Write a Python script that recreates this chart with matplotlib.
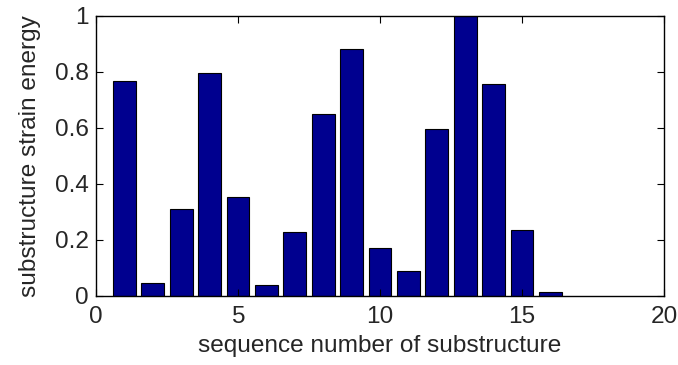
import matplotlib.pyplot as plt

plt.rcParams['font.family'] = ['Liberation Sans', 'DejaVu Sans']

seq = list(range(1, 17))
energy = [0.769, 0.046, 0.310, 0.798, 0.352, 0.039, 0.227, 0.651,
          0.881, 0.170, 0.088, 0.596, 1.0, 0.756, 0.236, 0.013]

fig = plt.figure(figsize=(6.78, 3.65), dpi=100)
ax = fig.add_axes([96 / 678, 69 / 365, 568 / 678, 280 / 365])

ax.bar(seq, energy, width=0.8, color='#00008F', edgecolor='black', linewidth=0.8)

ax.set_xlim(0, 20)
ax.set_ylim(0, 1)
ax.set_xticks([0, 5, 10, 15, 20])
ax.set_yticks([0, 0.2, 0.4, 0.6, 0.8, 1])
ax.set_yticklabels(['0', '0.2', '0.4', '0.6', '0.8', '1'])
ax.tick_params(direction='in', top=True, right=True, length=5, labelsize=17.6,
               labelcolor='#262626')
ax.tick_params(axis='x', pad=7.5)
ax.tick_params(axis='y', pad=5)
for s in ax.spines.values():
    s.set_linewidth(1.0)

ax.set_xlabel('sequence number of substructure', fontsize=17.6, labelpad=5,
              color='#262626')
ax.set_ylabel('substructure strain energy', fontsize=17.6, labelpad=10,
              color='#262626')

fig.savefig('out.png', dpi=100)
